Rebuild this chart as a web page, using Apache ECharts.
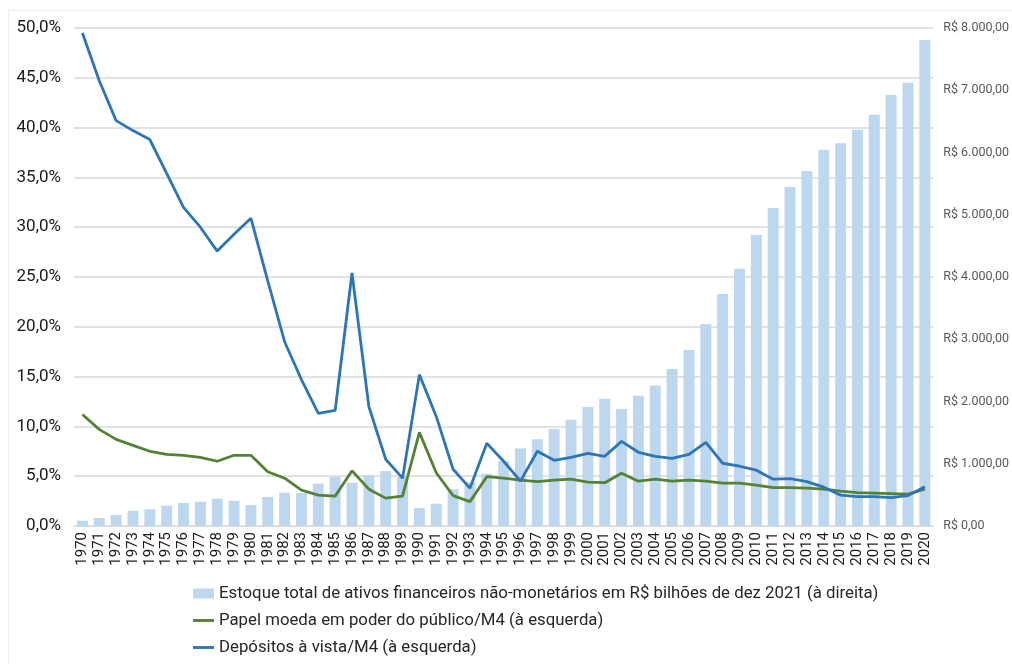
<!DOCTYPE html>
<html><head><meta charset="utf-8">
<script src="https://cdn.jsdelivr.net/npm/echarts@6/dist/echarts.min.js"></script>
<style>html,body{margin:0;padding:0;background:#fff}#c{width:1012px;height:664px}</style>
</head><body><div id="c"></div>
<script>
var years = [];
for (var y = 1970; y <= 2020; y++) years.push(String(y));

var estoque = [85,128,177,246,268,326,369,390,439,406,337,466,535,530,680,792,696,814,883,790,
  289,358,589,700,840,1044,1247,1392,1558,1707,1911,2045,1879,2093,2259,2521,2827,3245,3727,4133,
  4674,5108,5445,5702,6045,6148,6366,6607,6923,7121,7807];
var papel = [11.2,9.7,8.7,8.1,7.5,7.2,7.1,6.9,6.5,7.1,7.1,5.45,4.8,3.6,3.1,3.0,5.55,3.7,2.8,3.0,
  9.4,5.35,3.05,2.45,4.95,4.8,4.6,4.45,4.6,4.7,4.4,4.35,5.3,4.5,4.7,4.5,4.6,4.5,4.3,4.3,
  4.1,3.85,3.85,3.8,3.7,3.5,3.35,3.3,3.25,3.2,3.7];
var depositos = [49.5,44.7,40.7,39.7,38.8,35.4,32.0,30.0,27.6,29.3,30.9,24.6,18.5,14.7,11.3,11.6,25.4,12.0,6.7,4.8,
  15.2,11.0,5.7,3.8,8.3,6.5,4.5,7.5,6.6,6.9,7.3,7.0,8.5,7.4,7.0,6.8,7.2,8.4,6.3,6.0,
  5.6,4.7,4.75,4.45,3.9,3.1,2.95,2.95,2.85,3.05,3.95];

var names = [
  'Estoque total de ativos financeiros não-monetários em R$ bilhões de dez 2021 (à direita)',
  'Papel moeda em poder do público/M4 (à esquerda)',
  'Depósitos à vista/M4 (à esquerda)'
];

function fmtBRL(v){
  var s = Math.round(v).toString().replace(/\B(?=(\d{3})+(?!\d))/g,'.');
  return 'R$ ' + s + ',00';
}

var lineIcon = 'path://M0,0 L22,0 L22,3 L0,3 Z';

var chart = echarts.init(document.getElementById('c'), null, {renderer:'canvas'});
chart.setOption({
  animation:false,
  textStyle:{fontFamily:'Roboto'},
  graphic:[
    {type:'line',shape:{x1:8,y1:10.5,x2:1012,y2:10.5},style:{stroke:'#ececec',lineWidth:1},silent:true},
    {type:'line',shape:{x1:8.5,y1:10,x2:8.5,y2:664},style:{stroke:'#ececec',lineWidth:1},silent:true}
  ],
  grid:{left:74,right:76,top:28,bottom:138,containLabel:false},
  legend:{
    orient:'vertical', left:188, top:580, itemGap:10, itemWidth:21, itemHeight:10,
    textStyle:{fontSize:16.8,color:'#262626',fontFamily:'Roboto',lineHeight:17},
    data:[{name:names[0],icon:'rect'},{name:names[1],icon:lineIcon},{name:names[2],icon:lineIcon}]
  },
  xAxis:{
    type:'category', data:years,
    axisLine:{lineStyle:{color:'#d9d9d9'}},
    axisTick:{show:false},
    axisLabel:{rotate:90,fontSize:15,color:'#1a1a1a',margin:6,interval:0}
  },
  yAxis:[
    {type:'value',min:0,max:50,interval:5,position:'left',
     axisLabel:{fontSize:17,color:'#1a1a1a',margin:13,formatter:function(v){return v.toFixed(1).replace('.',',')+'%';}},
     splitLine:{lineStyle:{color:'#d9d9d9',width:1.5}},axisLine:{show:false},axisTick:{show:false}},
    {type:'value',min:0,max:8000,interval:1000,position:'right',
     axisLabel:{fontSize:12.5,color:'#595959',margin:10,formatter:fmtBRL},
     splitLine:{show:false},axisLine:{show:false},axisTick:{show:false}}
  ],
  series:[
    {name:names[0],type:'bar',yAxisIndex:1,data:estoque,barCategoryGap:'35%',
     itemStyle:{color:'#bdd7ee'}},
    {name:names[1],type:'line',yAxisIndex:0,data:papel,symbol:'none',
     lineStyle:{color:'#548235',width:2.8},itemStyle:{color:'#548235'}},
    {name:names[2],type:'line',yAxisIndex:0,data:depositos,symbol:'none',
     lineStyle:{color:'#2e75b6',width:2.8},itemStyle:{color:'#2e75b6'}}
  ]
});
</script></body></html>
